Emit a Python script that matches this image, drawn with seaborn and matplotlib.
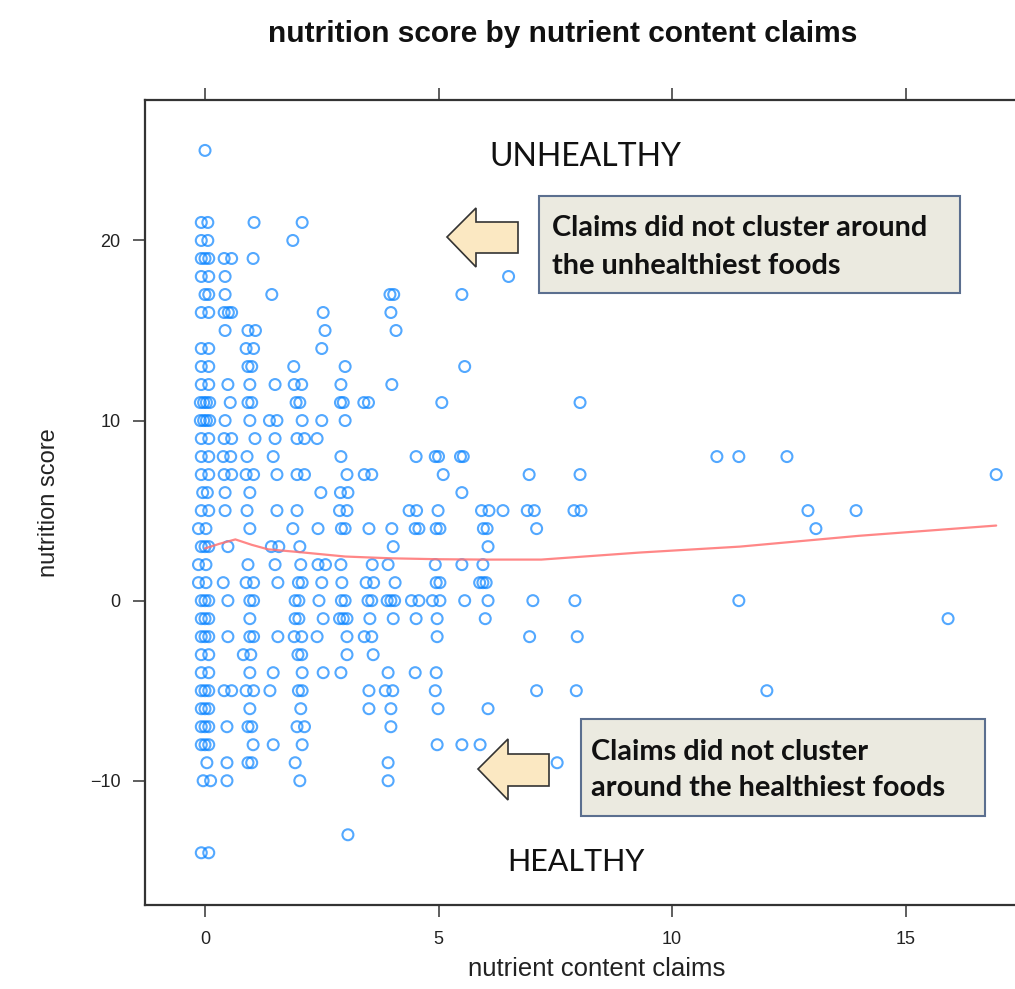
import numpy as np
import pandas as pd
import matplotlib
matplotlib.use("Agg")
import matplotlib.pyplot as plt
import seaborn as sns
from matplotlib.patches import Rectangle, Polygon

# ---------------- data ----------------
row_scores = [25, 21, 20, 19, 18, 17, 16, 15, 14, 13, 12, 11, 10, 9, 8, 7, 6, 5,
              4, 3, 2, 1, 0, -1, -2, -3, -4, -5, -6, -7, -8, -9, -10, -13, -14]

row_claims = [
    [0.0],
    [-0.08, 0.06, 1.05, 2.08],
    [-0.08, 0.06, 1.88],
    [-0.08, 0.0, 0.08, 0.41, 0.57, 1.03],
    [-0.08, 0.08, 0.43, 6.5],
    [0.0, 0.08, 0.43, 1.43, 3.96, 4.04, 5.5],
    [-0.08, 0.08, 0.41, 0.5, 0.57, 2.53, 3.98],
    [0.43, 0.92, 1.08, 2.57, 4.09],
    [-0.08, 0.08, 0.88, 1.04, 2.5],
    [-0.08, 0.08, 0.92, 1.0, 1.9, 3.0, 5.56],
    [-0.08, 0.08, 0.49, 0.96, 1.5, 1.91, 2.07, 2.91, 4.0],
    [-0.1, -0.03, 0.03, 0.1, 0.54, 0.92, 1.0, 1.95, 2.03, 2.9, 2.96, 3.4, 3.5, 5.07, 8.03],
    [-0.1, -0.03, 0.03, 0.1, 0.43, 0.96, 1.38, 1.54, 2.08, 2.5, 3.0],
    [-0.08, 0.08, 0.41, 0.57, 1.07, 1.5, 1.97, 2.13, 2.4],
    [-0.08, 0.08, 0.39, 0.55, 0.9, 1.46, 2.91, 4.52, 4.93, 5.0, 5.47, 5.53, 10.96, 11.43, 12.46],
    [-0.08, 0.08, 0.41, 0.57, 0.88, 1.04, 1.54, 1.97, 2.13, 3.04, 3.41, 3.57, 5.1, 6.94, 8.03, 16.94],
    [-0.05, 0.05, 0.43, 0.96, 2.48, 2.9, 3.06, 5.5],
    [-0.08, 0.08, 0.43, 0.9, 1.54, 1.97, 2.88, 3.04, 4.37, 4.53, 4.99, 5.92, 6.08, 6.38,
     6.9, 7.05, 7.9, 8.05, 12.91, 13.94],
    [-0.14, 0.02, 0.96, 1.88, 2.42, 2.92, 3.0, 3.51, 4.0, 4.5, 4.58, 4.95, 5.03, 5.96, 6.04, 7.1, 13.08],
    [-0.08, 0.0, 0.08, 0.49, 1.42, 1.58, 2.03, 4.03, 6.06],
    [-0.14, 0.02, 0.92, 1.5, 2.05, 2.42, 2.58, 2.91, 3.58, 3.92, 4.93, 5.5, 5.95],
    [-0.14, 0.02, 0.39, 0.88, 1.04, 1.56, 2.0, 2.08, 2.5, 2.93, 3.45, 3.61, 4.07, 4.95, 5.03,
     5.88, 5.95, 6.02],
    [-0.08, 0.0, 0.08, 0.49, 0.96, 1.04, 1.93, 2.01, 2.44, 2.92, 3.0, 3.49, 3.57, 3.9, 3.98,
     4.06, 4.42, 4.58, 4.87, 5.03, 5.56, 6.06, 7.02, 7.92, 11.43],
    [-0.08, 0.0, 0.08, 0.96, 1.93, 2.01, 2.53, 2.88, 2.96, 3.04, 3.53, 4.03, 4.52, 4.97, 6.0, 15.91],
    [-0.08, 0.0, 0.08, 0.49, 0.96, 1.04, 1.56, 1.91, 2.07, 2.4, 3.04, 3.41, 3.57, 4.97, 6.95, 7.97],
    [-0.08, 0.08, 0.82, 0.98, 1.99, 2.07, 3.04, 3.6],
    [-0.08, 0.08, 0.96, 1.46, 2.08, 2.53, 2.91, 3.92, 4.5, 4.95],
    [-0.08, 0.0, 0.08, 0.41, 0.57, 0.88, 1.04, 1.39, 2.0, 2.08, 3.51, 3.86, 4.02, 4.93, 7.1, 7.95, 12.03],
    [-0.08, 0.0, 0.08, 0.96, 2.05, 3.51, 3.98, 4.99, 6.06],
    [-0.08, 0.0, 0.08, 0.47, 0.92, 1.0, 1.97, 2.13, 3.98],
    [-0.08, 0.0, 0.08, 1.03, 1.46, 2.08, 4.97, 5.5, 5.89],
    [0.04, 0.47, 0.92, 1.0, 1.93, 3.92, 7.54],
    [-0.04, 0.12, 0.47, 2.03, 3.92],
    [3.06],
    [-0.08, 0.08],
]

smooth_claims = [0.0, 0.3, 0.65, 1.0, 1.35, 2.0, 3.0, 4.0, 5.0, 6.0, 7.2, 9.3, 11.45, 14.0, 16.94]
smooth_score = [2.9, 3.15, 3.4, 3.1, 2.85, 2.7, 2.45, 2.35, 2.3, 2.28, 2.28, 2.67, 3.0, 3.6, 4.17]

x_ticks = [0, 5, 10, 15]
y_ticks = [-10, 0, 10, 20]

title_text = "nutrition score by nutrient content claims"
x_label = "nutrient content claims"
y_label = "nutrition score"
top_note = ["Claims did not cluster around", "the unhealthiest foods"]
bottom_note = ["Claims did not cluster", "around the healthiest foods"]

# ---------------- build table ----------------
claims, scores = [], []
for s, cl in zip(row_scores, row_claims):
    for c in cl:
        claims.append(c)
        scores.append(s)
df = pd.DataFrame({"claims": claims, "score": scores})
smooth_df = pd.DataFrame({"claims": smooth_claims, "score": smooth_score})

sns.set_style("white")
plt.rcParams["font.family"] = ["Liberation Sans", "DejaVu Sans"]

W, H = 1015, 989
fig = plt.figure(figsize=(W / 100, H / 100), dpi=100)


def fx(px):
    return px / W


def fy(py):
    return 1 - py / H


ax_l, ax_r, ax_t, ax_b = 145, 1020, 100, 905
ax = fig.add_axes([fx(ax_l), fy(ax_b), (ax_r - ax_l) / W, (ax_b - ax_t) / H])

sns.scatterplot(data=df, x="claims", y="score", ax=ax, marker="o", s=62,
                facecolor="none", edgecolor="#0a84ff", linewidth=1.5, alpha=0.7,
                zorder=3)
sns.lineplot(data=smooth_df, x="claims", y="score", ax=ax, color="#ff7272",
             linewidth=1.6, alpha=0.85, zorder=4)

ax.set_xlim(-1.285, 17.45)
ax.set_ylim(-16.9, 27.8)
ax.set_xticks(x_ticks)
ax.set_yticks(y_ticks)
for sp in ax.spines.values():
    sp.set_color("#333333")
    sp.set_linewidth(1.6)
ax.tick_params(axis="both", direction="out", length=8.5, width=1.1, color="#333333",
               labelsize=13, labelcolor="#222222")
ax.tick_params(axis="x", top=True, labeltop=False, bottom=True, pad=10)
ax.tick_params(axis="y", left=True, right=True, labelright=False, pad=9)

ax.set_xlabel(x_label, fontsize=18.5, color="#222222")
ax.set_ylabel(y_label, fontsize=17, color="#222222")
ax.xaxis.set_label_coords((597 - ax_l) / (ax_r - ax_l), (ax_b - 957) / (ax_b - ax_t))
ax.yaxis.set_label_coords((60 - ax_l) / (ax_r - ax_l), 0.5)

fig.text(fx(563), fy(34), title_text, ha="center", va="center", fontsize=21.5,
         fontweight="bold", color="#111111")

# ---------------- annotations ----------------
note_font = ["Lato", "DejaVu Sans"]
fig.text(fx(585), fy(157), "UNHEALTHY", ha="center", va="center", fontsize=23,
         family=note_font, color="#111111")
fig.text(fx(576), fy(862), "HEALTHY", ha="center", va="center", fontsize=22,
         family=note_font, color="#111111")

box_fc, box_ec = "#ebeae0", "#5b6f8f"
for (x0, y0, x1, y1) in [(539, 196, 960, 293), (581, 719, 985, 816)]:
    fig.patches.append(Rectangle((fx(x0), fy(y1)), (x1 - x0) / W, (y1 - y0) / H,
                                 transform=fig.transFigure, facecolor=box_fc,
                                 edgecolor=box_ec, linewidth=1.5, zorder=5))

for i, line in enumerate(top_note):
    fig.text(fx(552), fy(228 + 38 * i), line, ha="left", va="center", fontsize=20.8,
             fontweight="bold", family=note_font, color="#111111", zorder=6)
for i, line in enumerate(bottom_note):
    fig.text(fx(591), fy(752 + 36 * i), line, ha="left", va="center", fontsize=20.8,
             fontweight="bold", family=note_font, color="#111111", zorder=6)

arrow_fc, arrow_ec = "#fbe8c2", "#333333"
arrows = [
    [(447, 237), (476, 208), (476, 222), (518, 222), (518, 253), (476, 253), (476, 267)],
    [(478, 769), (508, 739), (508, 754), (549, 754), (549, 786), (508, 786), (508, 800)],
]
for pts in arrows:
    fig.patches.append(Polygon([(fx(a), fy(b)) for a, b in pts], closed=True,
                               transform=fig.transFigure, facecolor=arrow_fc,
                               edgecolor=arrow_ec, linewidth=1.2, zorder=5))

fig.savefig("out.png", dpi=100)
